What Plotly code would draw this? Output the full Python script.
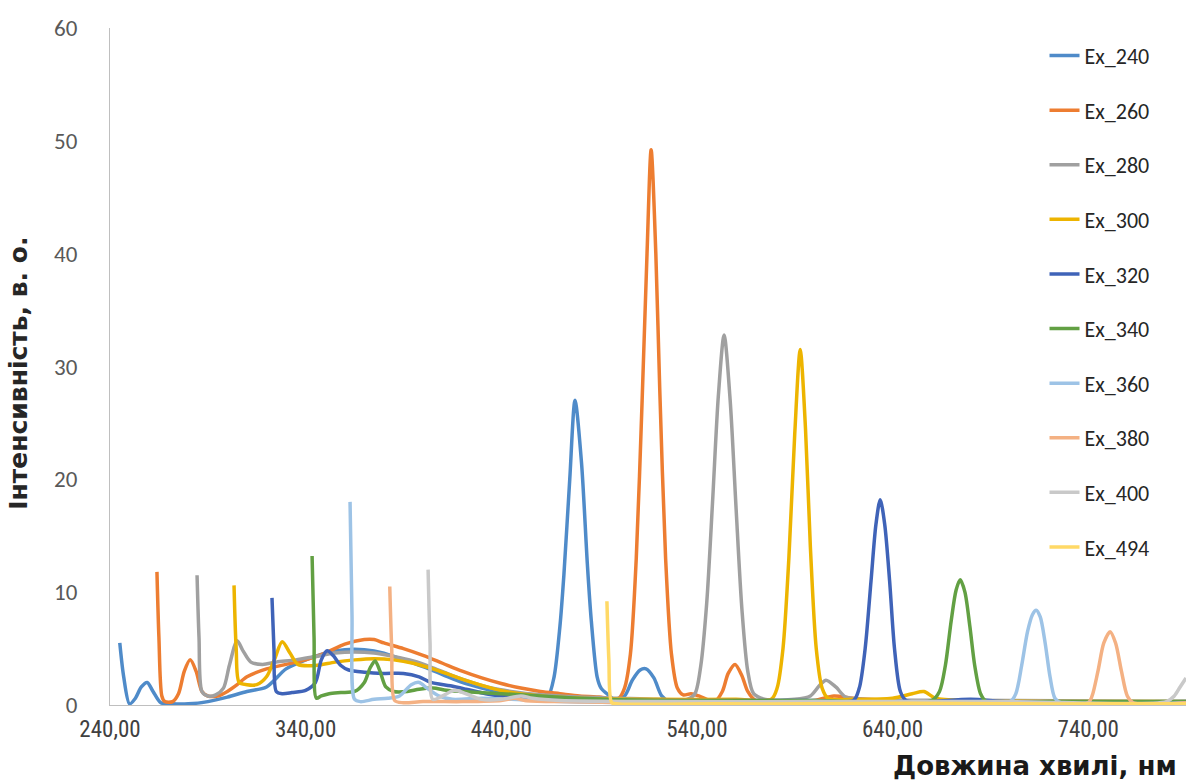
import plotly.graph_objects as go

# ---------------- data ----------------
ex240_x = [245, 247, 250, 253, 256, 259, 262, 266, 272, 280, 290, 300, 310, 320, 330, 340, 350, 360, 370, 380,
           390, 400, 410, 420, 430, 440, 450, 460, 464, 467, 470, 472, 475, 477.7, 481, 484, 486, 489, 491, 494,
           498, 503, 507, 511, 514, 518, 522, 526, 540, 560, 600, 650, 700, 750, 790]
ex240_y = [5.5, 2.5, 0.1, 0.6, 1.6, 2.0, 1.2, 0.2, 0.1, 0.1, 0.3, 0.7, 1.2, 1.6, 3.2, 4.0, 4.6, 4.9, 4.9, 4.6,
           4.0, 3.4, 2.7, 2.0, 1.5, 1.1, 0.8, 0.6, 0.8, 2.5, 7.0, 11.5, 20.0, 27.0, 21.5, 12.5, 7.5, 2.5, 1.5, 1.0,
           0.5, 0.8, 2.2, 3.1, 3.2, 2.4, 0.8, 0.3, 0.3, 0.4, 0.3, 0.2, 0.2, 0.15, 0.1]

ex260_x = [264, 265, 266.5, 268, 272, 275, 278, 281, 284, 287, 290, 295, 300, 305, 310, 320, 330, 340, 350, 360,
           370, 375, 380, 390, 400, 410, 420, 430, 440, 450, 460, 470, 480, 490, 500, 503, 506, 509, 512, 514.5,
           516.6, 519, 521, 524, 527, 530, 533, 537, 541, 545, 549, 553, 556, 559.5, 563, 566, 570, 580, 600, 610,
           620, 640, 700, 790]
ex260_y = [11.8, 6.0, 0.8, 0.3, 0.3, 1.0, 3.0, 4.0, 3.0, 1.2, 0.8, 0.8, 1.2, 1.8, 2.5, 3.2, 3.6, 4.0, 4.6, 5.4,
           5.8, 5.8, 5.5, 5.0, 4.4, 3.7, 3.0, 2.4, 1.9, 1.5, 1.2, 1.0, 0.8, 0.7, 0.6, 1.5, 4.5, 13.0, 27.0, 40.0,
           49.2, 40.0, 28.0, 13.0, 4.5, 1.5, 0.9, 1.0, 0.8, 0.5, 0.3, 1.2, 2.8, 3.6, 2.6, 1.2, 0.4, 0.3, 0.4, 0.8,
           0.6, 0.4, 0.3, 0.2]

ex280_x = [284.5, 285.5, 287, 290, 294, 298, 301, 305, 308, 312, 318, 325, 335, 345, 355, 365, 375, 385, 395, 405,
           415, 425, 435, 445, 460, 480, 500, 520, 535, 539, 542, 545, 548, 551, 553.9, 557, 560, 563, 566, 569,
           575, 590, 598, 603, 606, 611, 616, 625, 700, 790]
ex280_y = [11.5, 6.0, 1.2, 0.8, 0.9, 1.5, 3.5, 5.7, 4.8, 3.8, 3.6, 3.8, 4.0, 4.3, 4.6, 4.7, 4.6, 4.3, 3.9, 3.3,
           2.6, 2.0, 1.5, 1.2, 0.9, 0.7, 0.6, 0.5, 0.5, 1.0, 3.5, 9.0, 18.0, 27.5, 32.8, 27.0, 17.5, 8.5, 3.0, 1.0,
           0.5, 0.5, 0.8, 1.8, 2.2, 1.6, 0.7, 0.5, 0.4, 0.3]

ex300_x = [303.4, 304.5, 306, 310, 315, 320, 324, 328, 332, 336, 345, 355, 365, 375, 385, 395, 405, 415, 425, 435,
           445, 460, 480, 520, 560, 578, 581, 584, 587, 590, 592.8, 595.5, 598, 601, 604, 607, 620, 640, 650, 656,
           662, 680, 790]
ex300_y = [10.6, 5.0, 2.0, 1.8, 1.8, 2.5, 4.0, 5.6, 4.6, 3.6, 3.5, 3.8, 4.0, 4.1, 4.0, 3.7, 3.2, 2.6, 2.0, 1.5,
           1.1, 0.8, 0.6, 0.5, 0.5, 0.5, 1.5, 5.0, 13.0, 24.0, 31.5, 24.5, 14.0, 5.0, 1.5, 0.6, 0.5, 0.6, 1.0, 1.2,
           0.6, 0.4, 0.3]

ex320_x = [322.8, 323.8, 325, 328, 333, 340, 345, 348, 351, 354, 358, 362, 370, 380, 390, 398, 404, 414, 422, 432,
           440, 460, 500, 560, 600, 620, 623, 626, 629, 631.5, 633.7, 636, 638.5, 641, 644, 647, 680, 700, 790]
ex320_y = [9.5, 5.0, 1.2, 1.0, 1.1, 1.3, 2.0, 4.0, 4.8, 4.4, 3.5, 3.1, 2.9, 2.8, 2.8, 2.5, 2.0, 1.7, 1.4, 1.0,
           0.8, 0.5, 0.4, 0.4, 0.4, 0.4, 1.5, 5.0, 11.0, 16.0, 18.2, 16.0, 11.0, 5.0, 1.2, 0.4, 0.5, 0.3, 0.3]

ex340_x = [343.3, 344.3, 345.5, 348, 352, 358, 365, 370, 373, 375.5, 378, 381, 385, 392, 398, 405, 412, 420, 440,
           460, 480, 520, 600, 660, 664, 667, 670, 672.5, 674.6, 677, 679.5, 682, 685, 688, 720, 790]
ex340_y = [13.2, 6.0, 0.6, 0.8, 1.0, 1.1, 1.2, 2.0, 3.3, 3.9, 3.0, 1.6, 1.2, 1.2, 1.4, 1.5, 1.3, 1.2, 1.0,
           0.8, 0.6, 0.4, 0.4, 0.4, 1.2, 3.5, 7.5, 10.2, 11.1, 10.0, 7.0, 3.5, 1.0, 0.3, 0.3, 0.3]

ex360_x = [362.7, 363.7, 365, 368, 375, 382, 388, 394, 398, 402, 408, 415, 430, 445, 470, 520, 600, 700, 703, 706,
           709, 711.5, 713.4, 715.5, 718, 720.5, 723, 726, 790]
ex360_y = [18.0, 8.0, 0.5, 0.3, 0.5, 0.6, 0.8, 1.8, 2.0, 1.5, 0.8, 0.5, 0.6, 0.5, 0.3, 0.2, 0.3, 0.3, 1.0, 3.5,
           6.5, 8.0, 8.4, 7.8, 5.5, 2.5, 0.6, 0.2, 0.2]

ex380_x = [383, 384, 385.5, 390, 400, 420, 440, 447, 452, 470, 520, 600, 700, 740, 742, 745, 748, 751.2, 754, 757,
           760, 763, 790]
ex380_y = [10.5, 5.0, 0.4, 0.2, 0.3, 0.3, 0.4, 0.6, 0.4, 0.3, 0.2, 0.2, 0.2, 0.2, 0.8, 3.0, 5.5, 6.5, 5.5, 3.0,
           0.8, 0.2, 0.2]

ex400_x = [402.6, 403.6, 405, 410, 416, 422, 430, 440, 450, 456, 470, 520, 600, 700, 780, 784, 787, 790]
ex400_y = [12.0, 5.5, 0.5, 0.8, 1.3, 1.0, 0.5, 0.5, 0.8, 0.6, 0.4, 0.3, 0.3, 0.3, 0.3, 0.8, 1.6, 2.4]

ex494_x = [494, 495, 496.5, 500, 550, 600, 650, 700, 750, 790]
ex494_y = [9.2, 4.0, 0.2, 0.1, 0.1, 0.1, 0.15, 0.1, 0.1, 0.1]

series_names = ["Ex_240", "Ex_260", "Ex_280", "Ex_300", "Ex_320",
                "Ex_340", "Ex_360", "Ex_380", "Ex_400", "Ex_494"]
series_x = [ex240_x, ex260_x, ex280_x, ex300_x, ex320_x, ex340_x, ex360_x, ex380_x, ex400_x, ex494_x]
series_y = [ex240_y, ex260_y, ex280_y, ex300_y, ex320_y, ex340_y, ex360_y, ex380_y, ex400_y, ex494_y]
colors = ["#4F8BC9", "#ED7D31", "#A0A0A0", "#EDB400", "#3F63B8",
          "#62A043", "#9DC3E6", "#F4B183", "#C9C9C9", "#FFD966"]

x_ticks = [240, 340, 440, 540, 640, 740]
y_ticks = [0, 10, 20, 30, 40, 50, 60]

# ---------------- figure ----------------
fig = go.Figure()
for nm, xs, ys, c in zip(series_names, series_x, series_y, colors):
    fig.add_trace(go.Scatter(
        x=xs, y=ys, name=nm, mode="lines",
        line=dict(color=c, width=3.5, shape="spline", smoothing=0.8),
        legendgroup=nm,
    ))

base_font = "Calibri, Carlito, 'Open Sans', 'Liberation Sans', sans-serif"
narrow_font = "'Liberation Sans Narrow', 'Roboto Condensed', " + base_font
wide_bold = "'DejaVu Sans', 'Open Sans', sans-serif"

fig.update_layout(
    width=1189, height=783,
    margin=dict(l=110, r=3, t=28, b=78),
    paper_bgcolor="white", plot_bgcolor="white",
    separators=", ",
    font=dict(family=base_font, color="#404040", size=20),
    showlegend=True,
    legend=dict(
        x=0.8685, y=0.99, xanchor="left", yanchor="top",
        bgcolor="rgba(255,255,255,0)",
        font=dict(size=22, color="#262626"),
        traceorder="grouped", tracegroupgap=23,
        itemwidth=30,
    ),
    xaxis=dict(
        range=[240, 790], tickvals=x_ticks, tickformat=".2f",
        showgrid=False, zeroline=False,
        showline=True, linecolor="#BFBFBF", linewidth=1,
        ticks="", ticklabelstandoff=3,
        tickfont=dict(size=23, color="#404040", family=narrow_font),
    ),
    yaxis=dict(
        range=[0, 60], tickvals=y_ticks,
        showgrid=False, zeroline=False,
        showline=True, linecolor="#BFBFBF", linewidth=1,
        ticks="", ticklabelstandoff=27,
        tickfont=dict(size=23, color="#595959"),
    ),
    annotations=[
        dict(text="<b>Довжина хвилі, нм</b>", xref="paper", yref="paper",
             x=0.9935, y=-0.09, xanchor="right", yanchor="middle", showarrow=False,
             font=dict(size=26, color="#1a1a1a", family=wide_bold)),
        dict(text="<b>Інтенсивність, в. о.</b>", xref="paper", yref="paper",
             x=-0.085, y=0.49, xanchor="center", yanchor="middle", textangle=-90, showarrow=False,
             font=dict(size=25, color="#262626", family=wide_bold)),
    ],
)

fig.write_html("out.html")
